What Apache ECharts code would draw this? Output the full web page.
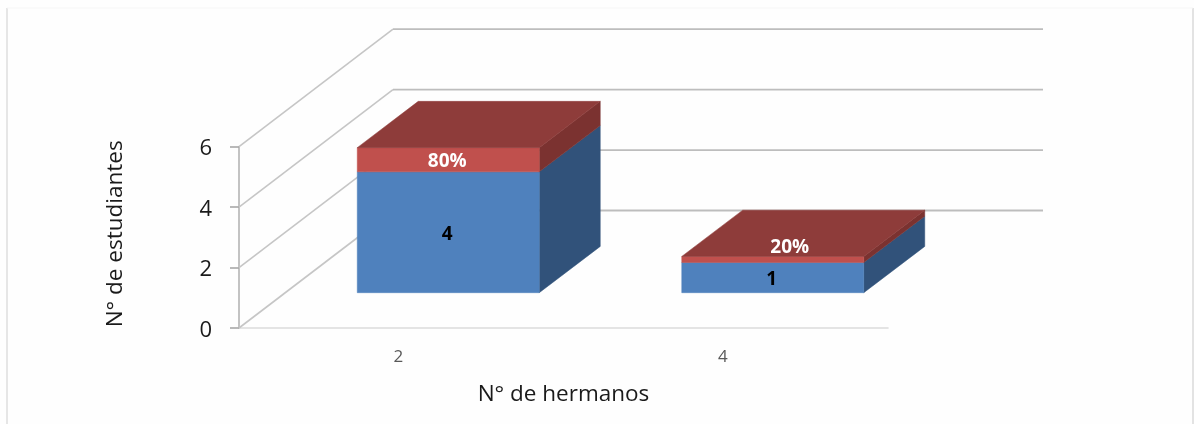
<!DOCTYPE html>
<html><head><meta charset="utf-8">
<style>html,body{margin:0;padding:0;background:#fff}#c{width:1194px;height:424px}</style>
<script src="https://cdn.jsdelivr.net/npm/echarts@6/dist/echarts.min.js"></script>
</head><body><div id="c"></div>
<script>
var categories = ['2', '4'];
var blueValues = [4, 1];
var redValues = [0.8, 0.2];
var redLabels = ['80%', '20%'];
var yTicks = [0, 2, 4, 6];

var FONT = '"Open Sans", sans-serif';
var WALL = { dx: 154, dy: -117.5, backEnd: 1043 };
var BAR = { dx: 61, dy: -46.3, liftX: 47, liftY: 35.3, width: 182 };

function poly(pts, fill) {
  return { type: 'polygon', shape: { points: pts }, style: { fill: fill, stroke: fill, lineWidth: 0.5 } };
}
function wallItem(params, api) {
  var cs = params.coordSys;
  var y = api.coord([0, api.value(1)])[1];
  var x0 = cs.x, bx = x0 + WALL.dx, by = y + WALL.dy;
  var s = { stroke: '#c6c6c6', lineWidth: 1.6, fill: null };
  return { type: 'group', children: [
    { type: 'line', shape: { x1: x0, y1: y, x2: bx, y2: by }, style: s },
    { type: 'line', shape: { x1: bx, y1: by, x2: WALL.backEnd, y2: by }, style: { stroke: '#bdbdbd', lineWidth: 1.8 } }
  ]};
}
function barItem(front, side, top, textFill) {
  return function (params, api) {
    var idx = api.value(0), lo = api.value(1), hi = api.value(2);
    var c0 = api.coord([idx, lo]), c1 = api.coord([idx, hi]);
    var xl = c0[0] + BAR.liftX - BAR.width / 2, xr = xl + BAR.width;
    var yb = c0[1] - BAR.liftY, yt = c1[1] - BAR.liftY;
    var dx = BAR.dx, dy = BAR.dy;
    var children = [
      poly([[xr, yb], [xr + dx, yb + dy], [xr + dx, yt + dy], [xr, yt]], side),
      poly([[xl, yb], [xr, yb], [xr, yt], [xl, yt]], front)
    ];
    if (top) children.push(poly([[xl, yt], [xl + dx, yt + dy], [xr + dx, yt + dy], [xr, yt]], top));
    var thin = yb - yt < 15;
    children.push({ type: 'text', z2: 10, style: {
      text: api.value(3) + '', x: (xl + xr) / 2 + (thin ? 17 : -1), y: (yb + yt) / 2 + (thin ? -12 : 2),
      fill: textFill, font: 'bold 19px ' + FONT, align: 'center', verticalAlign: 'middle'
    }});
    return { type: 'group', children: children };
  };
}

var chart = echarts.init(document.getElementById('c'), null, { renderer: 'canvas' });
chart.setOption({
  animation: false,
  backgroundColor: '#fefefe',
  graphic: [
    { type: 'line', z: -1, shape: { x1: 7, y1: 8, x2: 7, y2: 424 }, style: { stroke: '#e0e0e0', lineWidth: 1.6 } },
    { type: 'line', z: -1, shape: { x1: 1193, y1: 8, x2: 1193, y2: 424 }, style: { stroke: '#dcdcdc', lineWidth: 1.6 } },
    { type: 'line', z: -1, shape: { x1: 7, y1: 8, x2: 1193, y2: 8 }, style: { stroke: '#f6f6f6', lineWidth: 1 } }
  ],
  grid: { left: 239, right: 306, top: 146.7, bottom: 96 },
  xAxis: {
    type: 'category', data: categories, name: 'N° de hermanos', nameLocation: 'middle', nameGap: 55,
    nameTextStyle: { fontFamily: FONT, fontSize: 22.5, color: '#1a1a1a' },
    axisTick: { show: false },
    axisLine: { lineStyle: { color: '#dcdcdc', width: 1.6 } },
    axisLabel: { fontFamily: FONT, fontSize: 17, color: '#595959', margin: 21, padding: [0, 6, 0, 0] },
    splitLine: { show: false }
  },
  yAxis: {
    type: 'value', min: 0, max: 6, interval: 2, name: 'N° de estudiantes', nameLocation: 'middle', nameGap: 112,
    nameRotate: 90,
    nameTextStyle: { fontFamily: FONT, fontSize: 22.5, color: '#1a1a1a', padding: [0, 0, 0, 7] },
    axisLine: { show: true, lineStyle: { color: '#b4b4b4', width: 1.6 } },
    axisTick: { show: true, length: 9, lineStyle: { color: '#a8a8a8', width: 1.6 } },
    axisLabel: { fontFamily: FONT, fontSize: 22, color: '#1a1a1a', margin: 27, verticalAlign: 'top', lineHeight: 5 },
    splitLine: { show: false }
  },
  series: [
    { type: 'custom', name: 'walls', z: 1, renderItem: wallItem, clip: false, silent: true,
      encode: { x: 0, y: 1 },
      data: yTicks.map(function (v) { return [0, v]; }) },
    { type: 'custom', name: 'Estudiantes', z: 2, clip: false, silent: true,
      renderItem: barItem('#4f81bd', '#31527a', null, '#000'),
      encode: { x: 0, y: 2 },
      data: blueValues.map(function (v, i) { return [i, 0, v, v]; }) },
    { type: 'custom', name: 'Porcentaje', z: 3, clip: false, silent: true,
      renderItem: barItem('#c0504d', '#7b3230', '#8e3c3a', '#fff'),
      encode: { x: 0, y: 2 },
      data: redValues.map(function (v, i) { return [i, blueValues[i], blueValues[i] + v, redLabels[i]]; }) }
  ]
});
</script></body></html>
